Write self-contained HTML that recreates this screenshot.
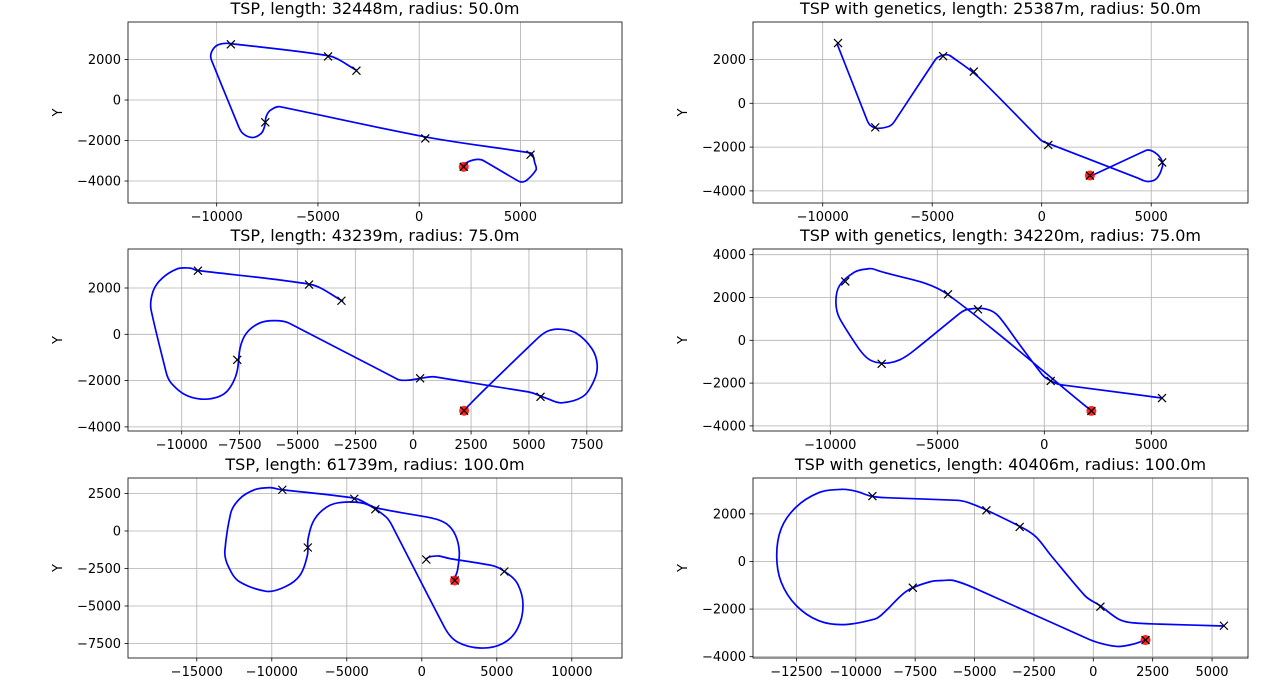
<!DOCTYPE html>
<html><head><meta charset="utf-8">
<style>
html,body{margin:0;padding:0;background:#fff;}
svg{display:block;font-family:"DejaVu Sans","Liberation Sans",sans-serif;}
</style></head>
<body>
<svg id="fig" width="1280" height="692" viewBox="0 0 1280 692" xmlns="http://www.w3.org/2000/svg"></svg>
<script>
// Waypoints (shared across all panels)
const wpX = [-9300, -4500, -3100, -7600, 300, 5500, 2200];
const wpY = [2750, 2150, 1450, -1100, -1900, -2700, -3300];
const startX = 2200;
const startY = -3300;

const titles = [
  "TSP, length: 32448m, radius: 50.0m",
  "TSP with genetics, length: 25387m, radius: 50.0m",
  "TSP, length: 43239m, radius: 75.0m",
  "TSP with genetics, length: 34220m, radius: 75.0m",
  "TSP, length: 61739m, radius: 100.0m",
  "TSP with genetics, length: 40406m, radius: 100.0m"
];

// Path data in thousands of metres
const p1x = [2.12,2.34,2.8,3.17,4.93,5.3,5.76,5.72,5.48,0.31,-6.88,-7.34,-7.56,-7.62,-7.8,-8.25,-8.71,-8.95,-10.26,-10.24,-9.92,-9.37,-4.54,-3.06];
const p1y = [-3.36,-3.09,-2.94,-2.99,-4.02,-3.97,-3.47,-3.14,-2.61,-1.82,-0.33,-0.5,-0.83,-1.24,-1.65,-1.85,-1.65,-1.24,1.98,2.4,2.73,2.79,2.2,1.45];

const p2x = [2.21,4.74,5.09,5.43,5.51,5.26,4.83,4.4,0.34,-0.05,-2.88,-4.16,-4.5,-4.85,-6.73,-6.99,-7.5,-7.84,-8.01,-9.35];
const p2y = [-3.34,-2.16,-2.2,-2.51,-2.89,-3.42,-3.57,-3.42,-1.85,-1.67,1.19,2.16,2.2,2.0,-0.84,-1.06,-1.14,-0.99,-0.68,2.74];

const p3x = [2.15,3.2,5.29,5.77,6.34,7.06,7.71,7.95,7.79,7.31,6.42,5.77,4.97,0.94,0.45,-0.19,-0.68,-5.35,-6.0,-6.65,-7.21,-7.48,-7.61,-7.94,-8.42,-9.15,-9.87,-10.44,-10.68,-11.32,-11.24,-10.84,-10.19,-9.63,-9.35,-4.5,-3.02];
const p3y = [-3.32,-2.27,-0.25,0.12,0.22,0.04,-0.61,-1.33,-2.05,-2.7,-2.96,-2.77,-2.49,-1.84,-1.88,-1.98,-1.94,0.48,0.59,0.48,0.04,-0.61,-1.62,-2.34,-2.7,-2.8,-2.6,-2.12,-1.62,1.05,1.85,2.43,2.83,2.86,2.76,2.17,1.42];

const p4x = [2.19,-4.51,-7.81,-8.16,-8.86,-9.56,-9.74,-9.56,-8.68,-8.16,-7.46,-6.75,-6.05,-3.95,-3.51,-2.72,-2.11,-1.14,-0.09,0.35,0.79,5.53];
const p4y = [-3.29,2.14,3.27,3.35,3.19,2.57,1.8,1.02,-0.37,-0.91,-1.07,-0.91,-0.45,1.26,1.46,1.46,1.1,-0.22,-1.61,-1.92,-2.08,-2.7];

const p5x = [2.12,2.38,2.5,2.25,1.63,0.63,-3.0,-4.55,-9.38,-10.13,-11.13,-12.13,-12.75,-13.13,-12.88,-12.13,-10.38,-9.13,-8.13,-7.63,-7.58,-7.13,-6.13,-4.88,-3.63,-2.38,-1.88,1.5,2.38,3.88,5.38,6.38,6.75,6.38,5.5,4.63,1.88,1.13,0.5,0.25];
const p5y = [-3.29,-2.62,-1.4,-0.29,0.49,0.87,1.53,2.2,2.76,2.89,2.76,2.16,1.16,-1.29,-2.4,-3.4,-4.02,-3.73,-2.96,-1.62,-0.51,0.82,1.71,1.93,1.76,0.93,0.16,-6.4,-7.4,-7.8,-7.51,-6.51,-4.96,-3.51,-2.69,-2.29,-1.84,-1.67,-1.73,-1.91];

const p6x = [2.19,1.69,1.06,0.43,-0.2,-5.09,-5.88,-6.36,-6.83,-7.62,-8.09,-8.72,-9.2,-10.46,-11.56,-12.51,-13.14,-13.33,-13.14,-12.51,-11.56,-10.62,-9.98,-9.38,-8.72,-5.73,-5.25,-4.54,-3.08,-2.41,-1.78,-0.36,0.32,1.06,1.69,2.79,5.47];
const p6y = [-3.3,-3.47,-3.57,-3.47,-3.26,-1.08,-0.8,-0.8,-0.84,-1.11,-1.43,-2.06,-2.42,-2.65,-2.49,-1.85,-0.87,0.25,1.38,2.29,2.89,3.03,2.95,2.75,2.68,2.57,2.47,2.18,1.47,1.03,0.25,-1.43,-1.88,-2.42,-2.58,-2.63,-2.71];

// Axis limits and ticks
const xlims = [[-14380,10015],[-13183,9420],[-12320,9020],[-13612,9519],[-19587,13347],[-14328,6514]];
const ylims = [[-5086,3852],[-4553,3712],[-4177,3685],[-4238,4266],[-8467,3533],[-4055,3507]];
const xticks = [
  [-10000,-5000,0,5000],
  [-10000,-5000,0,5000],
  [-10000,-7500,-5000,-2500,0,2500,5000,7500],
  [-10000,-5000,0,5000],
  [-15000,-10000,-5000,0,5000,10000],
  [-12500,-10000,-7500,-5000,-2500,0,2500,5000]
];
const yticks = [
  [2000,0,-2000,-4000],
  [2000,0,-2000,-4000],
  [2000,0,-2000,-4000],
  [4000,2000,0,-2000,-4000],
  [2500,0,-2500,-5000,-7500],
  [2000,0,-2000,-4000]
];
const pathsX = [p1x,p2x,p3x,p4x,p5x,p6x];
const pathsY = [p1y,p2y,p3y,p4y,p5y,p6y];

// Layout (pixel boxes)
const boxes = [
  {l:128,r:622,t:22,b:203},{l:753,r:1248,t:22,b:203},
  {l:128,r:622,t:249,b:431},{l:753,r:1248,t:249,b:431},
  {l:128,r:622,t:478,b:658},{l:753,r:1248,t:478,b:658}
];

const NS = "http://www.w3.org/2000/svg";
const svg = document.getElementById('fig');
function mk(tag, attrs, parent){
  const e = document.createElementNS(NS, tag);
  for (const k in attrs) e.setAttribute(k, attrs[k]);
  (parent||svg).appendChild(e);
  return e;
}
function fmt(v){ return v < 0 ? "\u2212" + Math.abs(v) : String(v); }
function smoothPath(pts){
  const n = pts.length;
  const tan = [];
  for (let k = 0; k < n; k++){
    const a = pts[Math.max(0,k-1)], c = pts[Math.min(n-1,k+1)], p = pts[k];
    const d1x = p[0]-a[0], d1y = p[1]-a[1], d2x = c[0]-p[0], d2y = c[1]-p[1];
    const l1 = Math.hypot(d1x,d1y), l2 = Math.hypot(d2x,d2y);
    // length-weighted direction: long straight segments dominate
    let tx = d1x*l1 + d2x*l2, ty = d1y*l1 + d2y*l2;
    const lt = Math.hypot(tx,ty) || 1;
    tan.push([tx/lt, ty/lt]);
  }
  let d = 'M' + pts[0][0].toFixed(1) + ',' + pts[0][1].toFixed(1);
  for (let k = 0; k < n - 1; k++){
    const p1 = pts[k], p2 = pts[k+1];
    const L = Math.hypot(p2[0]-p1[0], p2[1]-p1[1]) / 3;
    const c1x = p1[0] + tan[k][0]*L, c1y = p1[1] + tan[k][1]*L;
    const c2x = p2[0] - tan[k+1][0]*L, c2y = p2[1] - tan[k+1][1]*L;
    d += 'C' + c1x.toFixed(1) + ',' + c1y.toFixed(1) + ' ' + c2x.toFixed(1) + ',' + c2y.toFixed(1) + ' ' + p2[0].toFixed(1) + ',' + p2[1].toFixed(1);
  }
  return d;
}

for (let i = 0; i < 6; i++){
  const b = boxes[i];
  const xl = xlims[i], yl = ylims[i];
  const sx = v => b.l + (v - xl[0]) / (xl[1] - xl[0]) * (b.r - b.l);
  const sy = v => b.b - (v - yl[0]) / (yl[1] - yl[0]) * (b.b - b.t);
  const g = mk('g', {});
  
  

  const clipId = 'clip' + i;
  const cp = mk('clipPath', {id: clipId}, g);
  mk('rect', {x:b.l, y:b.t, width:b.r-b.l, height:b.b-b.t}, cp);

  xticks[i].forEach(v => {
    const x = sx(v);
    const gl = mk('line', {x1:x, x2:x, y1:b.t, y2:b.b, stroke:'#b0b0b0', 'stroke-width':0.8}, g);
    
    
    mk('line', {x1:x, x2:x, y1:b.b, y2:b.b+3.5, stroke:'#000', 'stroke-width':0.8}, g);
    const t = mk('text', {x:x, y:b.b+18, 'text-anchor':'middle', 'font-size':13, fill:'#000'}, g);
    t.textContent = fmt(v);
    
    
  });
  yticks[i].forEach(v => {
    const y = sy(v);
    const gl = mk('line', {x1:b.l, x2:b.r, y1:y, y2:y, stroke:'#b0b0b0', 'stroke-width':0.8}, g);
    
    
    mk('line', {x1:b.l-3.5, x2:b.l, y1:y, y2:y, stroke:'#000', 'stroke-width':0.8}, g);
    const t = mk('text', {x:b.l-7, y:y+4.5, 'text-anchor':'end', 'font-size':13, fill:'#000'}, g);
    t.textContent = fmt(v);
    
    
  });

  const px = pathsX[i], py = pathsY[i];
  const pts = [];
  for (let k = 0; k < px.length; k++) pts.push([sx(px[k]*1000), sy(py[k]*1000)]);
  const path = mk('path', {d:smoothPath(pts), fill:'none', stroke:'#0000ff', 'stroke-width':1.7, 'stroke-linejoin':'round', 'clip-path':'url(#'+clipId+')'}, g);
  
  

  const sc = mk('circle', {cx:sx(startX), cy:sy(startY), r:5, fill:'#ff0000', opacity:0.85}, g);
  
  

  for (let k = 0; k < wpX.length; k++){
    const x = sx(wpX[k]), y = sy(wpY[k]);
    const m = mk('path', {d:`M${x-4},${y-4}L${x+4},${y+4}M${x-4},${y+4}L${x+4},${y-4}`, stroke:'#000', 'stroke-width':1.2}, g);
    
    
  }

  const fr = mk('rect', {x:b.l, y:b.t, width:b.r-b.l, height:b.b-b.t, fill:'none', stroke:'#000', 'stroke-width':0.8}, g);
  
  

  const tt = mk('text', {x:(b.l+b.r)/2, y:b.t-8, 'text-anchor':'middle', 'font-size':16, fill:'#000'}, g);
  tt.textContent = titles[i];
  
  

  const yc = (b.t + b.b) / 2;
  const yx = b.l - 66;
  const yl2 = mk('text', {x:yx, y:yc, 'text-anchor':'middle', 'font-size':13, fill:'#000', transform:`rotate(-90 ${yx} ${yc})`}, g);
  yl2.textContent = 'Y';
  
  
}
</script>
</body></html>
